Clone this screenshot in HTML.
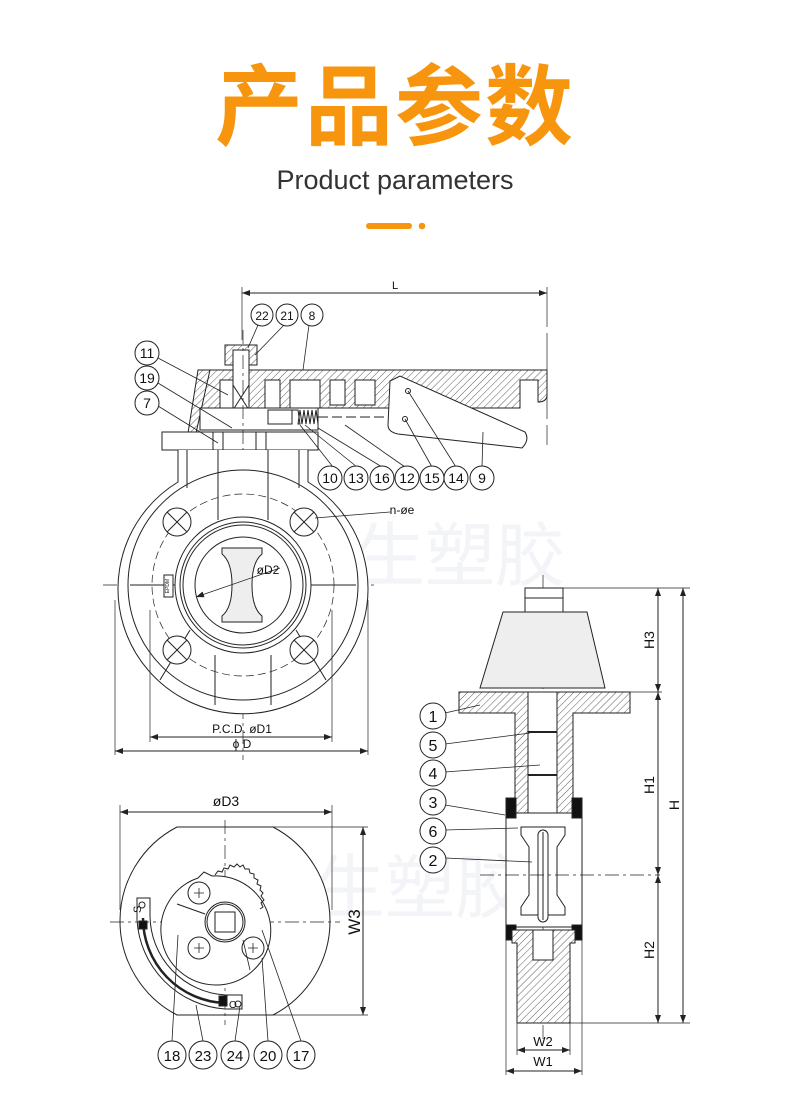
<!DOCTYPE html>
<html><head><meta charset="utf-8"><style>
html,body{margin:0;padding:0;background:#fff;width:790px;height:1104px;overflow:hidden}
svg{display:block}
</style></head><body>
<svg width="790" height="1104" viewBox="0 0 790 1104" xmlns="http://www.w3.org/2000/svg" font-family="Liberation Sans, sans-serif">
<defs>
<pattern id="h" width="5" height="5" patternUnits="userSpaceOnUse" patternTransform="rotate(45)">
<rect width="5" height="5" fill="#fff"/><line x1="0" y1="0" x2="0" y2="5" stroke="#333" stroke-width="0.8"/>
</pattern>
<marker id="a" markerWidth="8" markerHeight="6" refX="8" refY="3" orient="auto-start-reverse" markerUnits="userSpaceOnUse"><path d="M0,0 L8,3 L0,6z" fill="#222"/></marker>
</defs>

<!-- Title -->
<text x="395" y="138" text-anchor="middle" font-family="Liberation Sans, Noto Sans CJK SC, sans-serif" font-size="88" font-weight="bold" fill="#f7960e" letter-spacing="2">产品参数</text>
<text x="395" y="189" text-anchor="middle" font-size="27" fill="#333" font-weight="300">Product parameters</text>
<rect x="366" y="223" width="46" height="6" rx="3" fill="#f7960e"/>
<circle cx="422" cy="226" r="3.3" fill="#f7960e"/>

<!-- watermark -->
<text x="285" y="580" font-family="Noto Sans CJK SC, sans-serif" font-size="70" fill="#f3f4f8">戎生塑胶</text>
<text x="245" y="912" font-family="Noto Sans CJK SC, sans-serif" font-size="70" fill="#f3f4f8">戎生塑胶</text>

<g stroke="#222" stroke-width="1" fill="none">
<!-- L dim -->
<line x1="242" y1="293" x2="547" y2="293" marker-start="url(#a)" marker-end="url(#a)"/>
<line x1="242" y1="287" x2="242" y2="340" stroke-width="0.7"/>
<line x1="547" y1="287" x2="547" y2="445" stroke-width="0.7" stroke-dasharray="40,6"/>

<!-- handle -->
<path d="M198,370 L547,370 L547,396 Q546,402 538,402 L538,380 L520,380 L520,408 L198,408 Z" fill="url(#h)"/>
<path d="M198,370 L210,370 L196,433 L188,433 Z" fill="url(#h)"/>
<path d="M220,380 h20 v28 h-20z M265,380 h15 v28 h-15z M290,380 h30 v28 h-30z M330,380 h15 v25 h-15z M355,380 h20 v25 h-20z" fill="#fff"/>
<!-- stem nut -->
<rect x="225" y="345" width="32" height="20" fill="url(#h)"/>
<rect x="233" y="350" width="16" height="60" fill="#fff"/>
<line x1="233" y1="385" x2="249" y2="410"/><line x1="249" y1="385" x2="233" y2="410"/>
<!-- lower handle plate -->
<rect x="200" y="408" width="118" height="22" fill="#fff"/>
<rect x="268" y="410" width="24" height="14" fill="#fff"/>
<path d="M292,410 l6,0 l2,14 l-2,0 l2,-14 l2,14 l2,-14 l2,14 l2,-14 l2,14 l2,-14 l2,14 l2,-14 l2,14"/>
<line x1="318" y1="417" x2="395" y2="417" stroke-dasharray="10,4"/>
<!-- lever 9 -->
<path d="M390,381 L400,376 L525,432 Q530,440 522,448 L398,434 Q388,432 388,425 Z" fill="#fff"/>
<circle cx="408" cy="391" r="2.5"/><circle cx="405" cy="419" r="2.5"/>
<!-- base plate -->
<rect x="162" y="432" width="156" height="18" fill="#fff"/>
<rect x="213" y="432" width="10" height="18"/><rect x="256" y="432" width="10" height="18"/>
<!-- center line -->
<line x1="243" y1="330" x2="243" y2="760" stroke-dasharray="14,4,3,4" stroke-width="0.7"/>
<line x1="103" y1="585" x2="375" y2="585" stroke-dasharray="14,4,3,4" stroke-width="0.7"/>

<!-- body -->
<path d="M178,450 L178,482 A125,125 0 1 0 308,482 L308,450" fill="#fff"/>
<line x1="187" y1="450" x2="187" y2="488"/><line x1="299" y1="450" x2="299" y2="488"/>
<line x1="218" y1="450" x2="218" y2="520"/><line x1="268" y1="450" x2="268" y2="520"/>
<circle cx="243" cy="585" r="115"/>
<circle cx="243" cy="585" r="91" stroke-dasharray="8,4" stroke-width="0.7"/>
<line x1="130" y1="585" x2="176" y2="585"/><line x1="310" y1="585" x2="356" y2="585"/>
<line x1="215" y1="655" x2="215" y2="705"/><line x1="271" y1="655" x2="271" y2="705"/>
<line x1="190" y1="630" x2="160" y2="680"/><line x1="296" y1="630" x2="326" y2="680"/>
<circle cx="243" cy="585" r="68" fill="#fff"/>
<circle cx="243" cy="585" r="63"/><circle cx="243" cy="585" r="60"/>
<circle cx="243" cy="585" r="48" fill="#fff"/>
<path d="M222,548 h40 v6 q-10,8 -10,31 q0,23 10,31 v6 h-40 v-6 q10,-8 10,-31 q0,-23 -10,-31z" fill="#eee"/>
<rect x="164" y="575" width="9" height="22" fill="#fff"/>
<text x="169" y="586" font-size="5" fill="#222" stroke="none" transform="rotate(-90 169 586)" text-anchor="middle">EPDM</text>
<!-- bolt holes -->
<g>
<circle cx="177" cy="522" r="14" fill="#fff"/><line x1="167" y1="512" x2="187" y2="532"/><line x1="187" y1="512" x2="167" y2="532"/>
<circle cx="304" cy="522" r="14" fill="#fff"/><line x1="294" y1="512" x2="314" y2="532"/><line x1="314" y1="512" x2="294" y2="532"/>
<circle cx="177" cy="650" r="14" fill="#fff"/><line x1="167" y1="640" x2="187" y2="660"/><line x1="187" y1="640" x2="167" y2="660"/>
<circle cx="304" cy="650" r="14" fill="#fff"/><line x1="294" y1="640" x2="314" y2="660"/><line x1="314" y1="640" x2="294" y2="660"/>
</g>
<line x1="196" y1="597" x2="280" y2="568" marker-start="url(#a)" stroke-width="0.8"/>
<line x1="315" y1="518" x2="390" y2="512" stroke-width="0.8"/>
<!-- dims front -->
<line x1="150" y1="610" x2="150" y2="742" stroke-width="0.7"/><line x1="332" y1="610" x2="332" y2="742" stroke-width="0.7"/>
<line x1="115" y1="600" x2="115" y2="755" stroke-width="0.7"/><line x1="368" y1="600" x2="368" y2="755" stroke-width="0.7"/>
<line x1="150" y1="737" x2="332" y2="737" marker-start="url(#a)" marker-end="url(#a)"/>
<line x1="115" y1="751" x2="368" y2="751" marker-start="url(#a)" marker-end="url(#a)"/>

<!-- leaders front -->
<line x1="258" y1="325" x2="248" y2="348" stroke-width="0.8"/>
<line x1="284" y1="325" x2="255" y2="355" stroke-width="0.8"/>
<line x1="309" y1="325" x2="303" y2="370" stroke-width="0.8"/>
<line x1="158" y1="358" x2="228" y2="395" stroke-width="0.8"/>
<line x1="158" y1="383" x2="232" y2="428" stroke-width="0.8"/>
<line x1="158" y1="406" x2="218" y2="443" stroke-width="0.8"/>
<line x1="333" y1="467" x2="300" y2="425" stroke-width="0.8"/>
<line x1="357" y1="467" x2="305" y2="425" stroke-width="0.8"/>
<line x1="382" y1="467" x2="318" y2="428" stroke-width="0.8"/>
<line x1="405" y1="467" x2="345" y2="425" stroke-width="0.8"/>
<line x1="432" y1="467" x2="405" y2="419" stroke-width="0.8"/>
<line x1="456" y1="467" x2="408" y2="391" stroke-width="0.8"/>
<line x1="482" y1="467" x2="483" y2="432" stroke-width="0.8"/>

<!-- side view -->
<line x1="543" y1="575" x2="543" y2="1040" stroke-dasharray="14,4,3,4" stroke-width="0.7"/>
<rect x="525" y="588" width="38" height="24" fill="#fff"/>
<line x1="525" y1="598" x2="563" y2="598"/>
<path d="M503,612 L587,612 L605,688 L480,688 Z" fill="#eee"/>
<path d="M459,692 L630,692 L630,713 L573,713 L573,813 L515,813 L515,713 L459,713 Z" fill="url(#h)"/>
<rect x="528" y="692" width="29" height="121" fill="#fff"/>
<line x1="528" y1="732" x2="557" y2="732" stroke-width="2"/><line x1="528" y1="775" x2="557" y2="775" stroke-width="2"/>
<rect x="506" y="813" width="76" height="114" fill="#fff"/>
<path d="M506,798 h10 v20 h-10z M572,798 h10 v20 h-10z M506,925 h10 v15 h-10z M572,925 h10 v15 h-10z" fill="#111"/>
<path d="M521,827 h44 v8 l-8,12 v48 l8,12 v8 h-44 v-8 l8,-12 v-48 l-8,-12z" fill="#fff"/>
<rect x="538" y="830" width="10" height="92" rx="5" fill="#fff"/>
<line x1="543" y1="832" x2="543" y2="920"/>
<line x1="480" y1="875" x2="660" y2="875" stroke-dasharray="14,4,3,4" stroke-width="0.7"/>
<path d="M512,930 L575,930 L575,943 L570,943 L570,1023 L517,1023 L517,943 L512,943 Z" fill="url(#h)"/>
<rect x="533" y="930" width="20" height="30" fill="#fff"/>
<!-- side dims -->
<line x1="563" y1="588" x2="690" y2="588" stroke-width="0.7"/>
<line x1="630" y1="692" x2="662" y2="692" stroke-width="0.7"/>
<line x1="570" y1="1023" x2="690" y2="1023" stroke-width="0.7"/>
<line x1="658" y1="588" x2="658" y2="692" marker-start="url(#a)" marker-end="url(#a)"/>
<line x1="658" y1="692" x2="658" y2="875" marker-start="url(#a)" marker-end="url(#a)"/>
<line x1="658" y1="875" x2="658" y2="1023" marker-start="url(#a)" marker-end="url(#a)"/>
<line x1="683" y1="588" x2="683" y2="1023" marker-start="url(#a)" marker-end="url(#a)"/>
<line x1="517" y1="1023" x2="517" y2="1055" stroke-width="0.7"/><line x1="570" y1="1023" x2="570" y2="1055" stroke-width="0.7"/>
<line x1="506" y1="927" x2="506" y2="1075" stroke-width="0.7"/><line x1="582" y1="927" x2="582" y2="1075" stroke-width="0.7"/>
<line x1="517" y1="1050" x2="570" y2="1050" marker-start="url(#a)" marker-end="url(#a)"/>
<line x1="506" y1="1071" x2="582" y2="1071" marker-start="url(#a)" marker-end="url(#a)"/>
<!-- side leaders -->
<line x1="445" y1="713" x2="480" y2="705" stroke-width="0.8"/>
<line x1="445" y1="744" x2="530" y2="733" stroke-width="0.8"/>
<line x1="445" y1="772" x2="540" y2="765" stroke-width="0.8"/>
<line x1="445" y1="805" x2="505" y2="815" stroke-width="0.8"/>
<line x1="445" y1="830" x2="518" y2="828" stroke-width="0.8"/>
<line x1="445" y1="858" x2="532" y2="862" stroke-width="0.8"/>

<!-- bottom view -->
<line x1="120" y1="812" x2="332" y2="812" marker-start="url(#a)" marker-end="url(#a)"/>
<line x1="120" y1="805" x2="120" y2="910" stroke-width="0.7"/><line x1="332" y1="805" x2="332" y2="910" stroke-width="0.7"/>
<path d="M177,827 L273,827 A106,106 0 0 1 273,1015 L177,1015 A106,106 0 0 1 177,827 Z" fill="#fff"/>
<line x1="273" y1="827" x2="368" y2="827" stroke-width="0.7"/><line x1="273" y1="1015" x2="368" y2="1015" stroke-width="0.7"/>
<line x1="363" y1="827" x2="363" y2="1015" marker-start="url(#a)" marker-end="url(#a)"/>
<line x1="110" y1="922" x2="340" y2="922" stroke-dasharray="14,4,3,4" stroke-width="0.7"/>
<line x1="225" y1="820" x2="225" y2="1025" stroke-dasharray="14,4,3,4" stroke-width="0.7"/>
<path d="M198,878 L204,872 L212,876 A55,55 0 0 1 270,940 A55,55 0 1 1 198,878 Z" fill="#fff"/>
<path d="M215,875 l3,-4 l4,1 l2,-4 l4,1 l2,-4 l4,2 l3,-3 l3,3 l3,-2 l2,4 l4,0 l1,4 l4,1 l0,4 l4,2 l-1,4 l4,2 l-1,4 l3,3 l-2,3 l3,4 l-3,3 l2,4 l-3,2"/>
<circle cx="225" cy="922" r="20" fill="#fff"/><circle cx="225" cy="922" r="18"/>
<rect x="215" y="912" width="20" height="20"/>
<circle cx="199" cy="893" r="11"/><circle cx="199" cy="948" r="11"/><circle cx="253" cy="948" r="11"/>
<path d="M194,893h10M199,888v10M194,948h10M199,943v10M248,948h10M253,943v10" stroke-width="0.8"/>
<line x1="177" y1="904" x2="205" y2="914"/>
<path d="M143,918 A85,85 0 0 0 225,1003" stroke-width="2.5"/>
<path d="M137,898 h13 v18 A80,80 0 0 0 225,995 h17 v14 h-17 A95,95 0 0 1 137,920 z"/>
<rect x="139" y="921" width="8" height="8" fill="#111"/><rect x="219" y="996" width="8" height="10" fill="#111"/>
<text x="141" y="913" font-size="11" fill="#111" stroke="none" transform="rotate(-90 141 913)">S</text>
<text x="229" y="1008" font-size="10" fill="#111" stroke="none">O</text>
<circle cx="142" cy="905" r="3"/><circle cx="238" cy="1004" r="3"/>
<!-- bottom leaders -->
<line x1="172" y1="1041" x2="178" y2="935" stroke-width="0.8"/>
<line x1="203" y1="1041" x2="196" y2="1005" stroke-width="0.8"/>
<line x1="235" y1="1041" x2="240" y2="1006" stroke-width="0.8"/>
<line x1="268" y1="1041" x2="262" y2="958" stroke-width="0.8"/>
<line x1="301" y1="1041" x2="262" y2="930" stroke-width="0.8"/>
<line x1="243" y1="940" x2="250" y2="970" stroke-width="0.8"/>
</g>

<!-- callout circles -->
<g fill="#fff" stroke="#222" stroke-width="1">
<circle cx="262" cy="315" r="11"/><circle cx="287" cy="315" r="11"/><circle cx="312" cy="315" r="11"/>
<circle cx="147" cy="353" r="12"/><circle cx="147" cy="378" r="12"/><circle cx="147" cy="403" r="12"/>
<circle cx="330" cy="478" r="12"/><circle cx="356" cy="478" r="12"/><circle cx="382" cy="478" r="12"/><circle cx="407" cy="478" r="12"/><circle cx="432" cy="478" r="12"/><circle cx="456" cy="478" r="12"/><circle cx="482" cy="478" r="12"/>
<circle cx="433" cy="716" r="13"/><circle cx="433" cy="745" r="13"/><circle cx="433" cy="773" r="13"/><circle cx="433" cy="802" r="13"/><circle cx="433" cy="831" r="13"/><circle cx="433" cy="860" r="13"/>
<circle cx="172" cy="1055" r="14"/><circle cx="203" cy="1055" r="14"/><circle cx="235" cy="1055" r="14"/><circle cx="268" cy="1055" r="14"/><circle cx="301" cy="1055" r="14"/>
</g>
<g fill="#111" font-size="14" text-anchor="middle">
<text x="262" y="320" font-size="12">22</text><text x="287" y="320" font-size="12">21</text><text x="312" y="320" font-size="12">8</text>
<text x="147" y="358">11</text><text x="147" y="383">19</text><text x="147" y="408">7</text>
<text x="330" y="483">10</text><text x="356" y="483">13</text><text x="382" y="483">16</text><text x="407" y="483">12</text><text x="432" y="483">15</text><text x="456" y="483">14</text><text x="482" y="483">9</text>
<g font-size="16"><text x="433" y="722">1</text><text x="433" y="751">5</text><text x="433" y="779">4</text><text x="433" y="808">3</text><text x="433" y="837">6</text><text x="433" y="866">2</text></g>
<g font-size="15"><text x="172" y="1061">18</text><text x="203" y="1061">23</text><text x="235" y="1061">24</text><text x="268" y="1061">20</text><text x="301" y="1061">17</text></g>
<text x="395" y="289" font-size="11">L</text>
<text x="402" y="514" font-size="12">n-øe</text>
<text x="268" y="574" font-size="12">øD2</text>
<text x="242" y="733" font-size="12">P.C.D. øD1</text>
<text x="242" y="748" font-size="12">ϕ D</text>
<text x="226" y="806" font-size="14">øD3</text>
<text x="543" y="1046" font-size="13">W2</text>
<text x="543" y="1066" font-size="13">W1</text>
<text x="0" y="0" font-size="14" transform="translate(654,640) rotate(-90)">H3</text>
<text x="0" y="0" font-size="14" transform="translate(654,785) rotate(-90)">H1</text>
<text x="0" y="0" font-size="14" transform="translate(654,950) rotate(-90)">H2</text>
<text x="0" y="0" font-size="14" transform="translate(679,805) rotate(-90)">H</text>
<text x="0" y="0" font-size="17" transform="translate(360,922) rotate(-90)">W3</text>
</g>
</svg>
</body></html>
